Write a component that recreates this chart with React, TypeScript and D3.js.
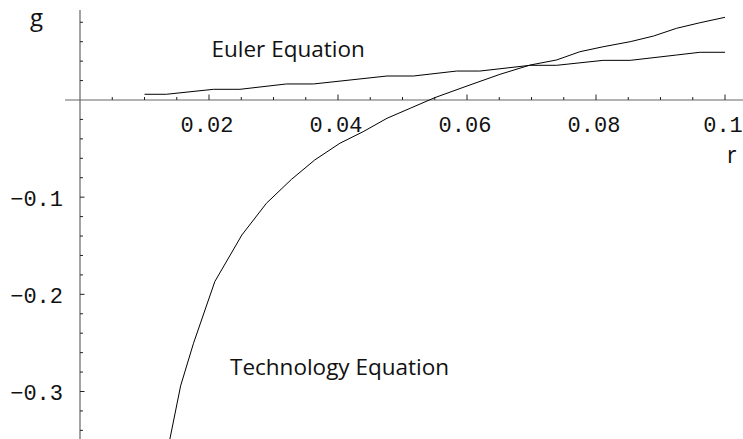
import React from "react";
import * as d3 from "d3";

const W = 743;
const H = 439;

// Euler equation curve (r, g)
const eulerR = [0.01, 0.0134, 0.0207, 0.0248, 0.032, 0.0362, 0.0476, 0.0517, 0.0584, 0.062, 0.0698, 0.0739, 0.0811, 0.0853, 0.0925, 0.0961, 0.1];
const eulerG = [0.0059, 0.0059, 0.011, 0.011, 0.0165, 0.0165, 0.0247, 0.0247, 0.0298, 0.0298, 0.0357, 0.0357, 0.0408, 0.0408, 0.0463, 0.0491, 0.0491];

// Technology equation curve (r, g)
const techR = [0.0136, 0.0156, 0.0176, 0.0209, 0.0251, 0.0289, 0.0328, 0.0364, 0.0403, 0.0439, 0.0476, 0.0512, 0.055, 0.06, 0.0651, 0.0698, 0.0739, 0.0775, 0.0811, 0.0853, 0.0889, 0.0925, 0.0961, 0.1];
const techG = [-0.36, -0.2942, -0.2503, -0.1869, -0.1389, -0.1063, -0.0816, -0.0617, -0.0445, -0.0326, -0.0188, -0.0085, 0.0024, 0.0144, 0.0264, 0.036, 0.0412, 0.0497, 0.0548, 0.06, 0.0658, 0.0738, 0.0795, 0.0851];

const xMajor = [0.02, 0.04, 0.06, 0.08, 0.1];
const xLabels = ["0.02", "0.04", "0.06", "0.08", "0.1"];
const yMajor = [-0.1, -0.2, -0.3];
const yLabels = ["\u22120.1", "\u22120.2", "\u22120.3"];

export default function App() {
  const x = d3.scaleLinear().domain([0, 0.1]).range([80, 725]);
  const y = d3.scaleLinear().domain([0, -0.3]).range([100, 391.5]);

  const line = d3
    .line<number>()
    .x((d) => x(d[0]))
    .y((d) => y(d[1]));

  const euler = eulerR.map((r, i) => [r, eulerG[i]]);
  const tech = techR.map((r, i) => [r, techG[i]]);

  // minor ticks every 0.005 on r, every 0.02 on g
  const xMinor = d3.range(1, 21).map((i) => i * 0.005).filter((v) => !xMajor.some((m) => Math.abs(m - v) < 1e-9));
  const yMinor = d3.range(-17, 5).map((i) => i * 0.02).filter((v) => Math.abs(v) > 1e-9 && !yMajor.some((m) => Math.abs(m - v) < 1e-9));

  const axisColor = "#666";
  const mono = "'Liberation Mono', monospace";
  const sans = "'Open Sans', sans-serif";

  return (
    <svg
      width={W}
      height={H}
      style={{ position: "absolute", left: 0, top: 0, background: "#fff" }}
    >
      <defs>
        <clipPath id="plot">
          <rect x={0} y={0} width={W} height={H} />
        </clipPath>
      </defs>

      {/* axes */}
      <line x1={65} x2={W} y1={y(0)} y2={y(0)} stroke={axisColor} strokeWidth={1.2} />
      <line x1={x(0)} x2={x(0)} y1={10} y2={H} stroke={axisColor} strokeWidth={1.2} />

      {xMinor.map((v) => (
        <line key={"xm" + v} x1={x(v)} x2={x(v)} y1={y(0)} y2={y(0) - 3} stroke="#222" strokeWidth={1} />
      ))}
      {xMajor.map((v) => (
        <line key={"xM" + v} x1={x(v)} x2={x(v)} y1={y(0)} y2={y(0) - 5.5} stroke="#222" strokeWidth={1} />
      ))}
      {yMinor.map((v) => (
        <line key={"ym" + v} x1={x(0)} x2={x(0) + 3} y1={y(v)} y2={y(v)} stroke="#222" strokeWidth={1} />
      ))}
      {yMajor.map((v) => (
        <line key={"yM" + v} x1={x(0)} x2={x(0) + 4.5} y1={y(v)} y2={y(v)} stroke="#222" strokeWidth={1} />
      ))}

      {xMajor.map((v, i) => (
        <text key={"xl" + v} x={x(v) - 2} y={132} textAnchor="middle" fontFamily={mono} fontSize={22} fill="#111">
          {xLabels[i]}
        </text>
      ))}
      {yMajor.map((v, i) => (
        <text key={"yl" + v} x={63} y={y(v) + 8.5} textAnchor="end" fontFamily={mono} fontSize={22} fill="#111">
          {yLabels[i]}
        </text>
      ))}

      <g clipPath="url(#plot)" fill="none" stroke="#000" strokeWidth={1}>
        <path d={line(euler as any) || ""} />
        <path d={line(tech as any) || ""} />
      </g>

      <text x={30} y={26} fontFamily={sans} fontSize={24} fill="#111">g</text>
      <text x={727} y={163} fontFamily={sans} fontSize={23} fill="#111">r</text>
      <text x={211.5} y={56.5} fontFamily={sans} fontSize={22.5} fill="#111">Euler Equation</text>
      <text x={230} y={375} fontFamily={sans} fontSize={22.5} fill="#111">Technology Equation</text>
    </svg>
  );
}
